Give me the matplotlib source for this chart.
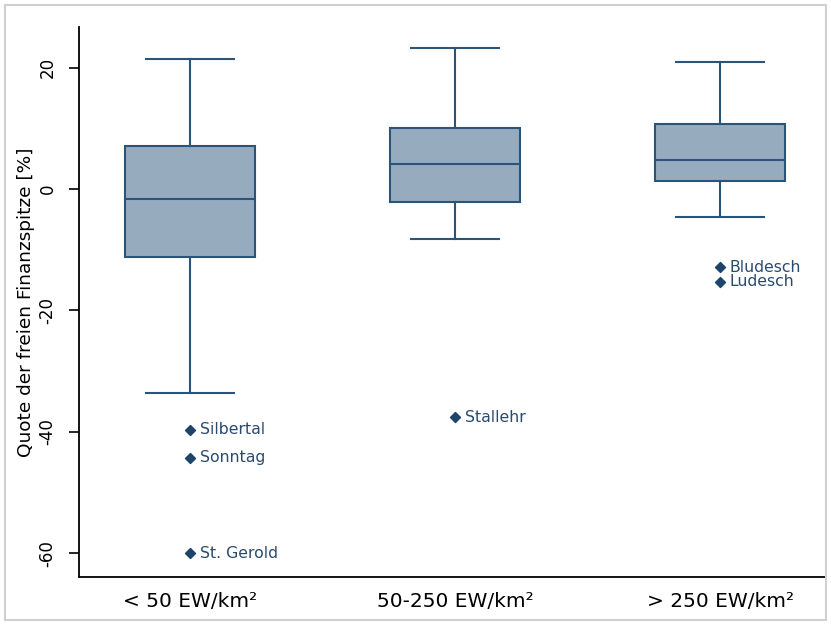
import matplotlib.pyplot as plt
from matplotlib.patches import Rectangle

plt.rcParams['font.family'] = ['DejaVu Sans']
plt.rcParams['axes.unicode_minus'] = False

# box statistics
groups = ['< 50 EW/km²', '50-250 EW/km²', '> 250 EW/km²']
whisker_low = [-33.6, -8.2, -4.6]
q1 = [-11.2, -2.1, 1.3]
median = [-1.6, 4.1, 4.8]
q3 = [7.1, 10.0, 10.7]
whisker_high = [21.4, 23.2, 20.9]

# outliers (group index, value, name)
outlier_group = [0, 0, 0, 1, 2, 2]
outlier_value = [-39.7, -44.3, -60.0, -37.6, -12.9, -15.3]
outlier_name = ['Silbertal', 'Sonntag', 'St. Gerold', 'Stallehr', 'Bludesch', 'Ludesch']

box_face = '#97abbf'
line_col = '#2b5479'
dot_col = '#1f446b'

fig = plt.figure(figsize=(8.31, 6.25), dpi=100)
fig.patches.append(Rectangle((0.006, 0.008), 0.988, 0.984, transform=fig.transFigure,
                             fill=False, edgecolor='#d0d0d0', linewidth=1.5))
ax = fig.add_axes([0.095, 0.077, 0.899, 0.88])

stats = []
for i in range(len(groups)):
    stats.append({'whislo': whisker_low[i], 'q1': q1[i], 'med': median[i],
                  'q3': q3[i], 'whishi': whisker_high[i], 'fliers': []})

ax.bxp(stats, positions=[1, 2, 3], widths=0.49, patch_artist=True, showfliers=False,
       boxprops=dict(facecolor=box_face, edgecolor=line_col, linewidth=1.5),
       medianprops=dict(color=line_col, linewidth=1.5),
       whiskerprops=dict(color=line_col, linewidth=1.5),
       capprops=dict(color=line_col, linewidth=1.5),
       capwidths=0.33)

xs = [g + 1 for g in outlier_group]
ax.scatter(xs, outlier_value, marker='D', s=26, color=dot_col, zorder=3)
for x, v, n in zip(xs, outlier_value, outlier_name):
    ax.annotate(n, (x, v), xytext=(7, 0), textcoords='offset points',
                va='center', ha='left', fontsize=11.3, color='#2a4a6e')

ax.set_xlim(0.58, 3.4)
ax.set_ylim(-63.9, 26.7)
ax.set_yticks([-60, -40, -20, 0, 20])
ax.set_xticks([1, 2, 3])
ax.set_xticklabels(groups, fontsize=14.5)
for lab in ax.get_yticklabels():
    lab.set_rotation(90)
    lab.set_va('center')
ax.tick_params(axis='y', labelsize=12, length=7, width=1.2, pad=9)
ax.tick_params(axis='x', length=0, pad=11)
ax.set_ylabel('Quote der freien Finanzspitze [%]', fontsize=13.3, labelpad=3)
ax.spines['top'].set_visible(False)
ax.spines['right'].set_visible(False)
ax.spines['left'].set_linewidth(1.3)
ax.spines['bottom'].set_linewidth(1.3)

plt.savefig('out.png', dpi=100)
